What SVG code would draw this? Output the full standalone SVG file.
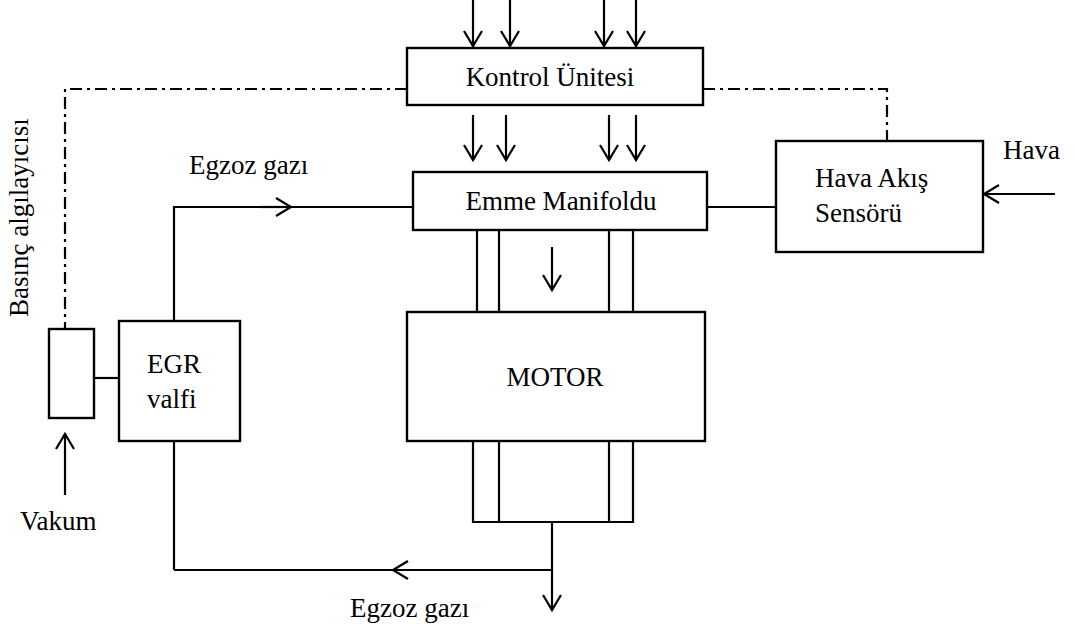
<svg xmlns="http://www.w3.org/2000/svg" width="1075" height="634" viewBox="0 0 1075 634">
<style>
.box{fill:#fff;stroke:#000;stroke-width:2.4}
.ln{fill:none;stroke:#000;stroke-width:2.2}
.dd{fill:none;stroke:#000;stroke-width:2.2;stroke-dasharray:12,5,3,5}
.ar{marker-end:url(#ah)}
text{font-family:"Liberation Serif","Times New Roman",serif;font-size:27px;fill:#000}
</style>
<defs>
<marker id="ah" markerUnits="userSpaceOnUse" markerWidth="24" markerHeight="24" viewBox="0 0 24 24" refX="17" refY="12" orient="auto">
<path d="M2,3 L17,12 L2,21" fill="none" stroke="#000" stroke-width="2.2"/>
</marker>
</defs>
<rect width="1075" height="634" fill="#fff"/>
<g id="connectors">
<line class="ln ar" x1="473" y1="0" x2="473" y2="46"/>
<line class="ln ar" x1="510" y1="0" x2="510" y2="46"/>
<line class="ln ar" x1="604" y1="0" x2="604" y2="46"/>
<line class="ln ar" x1="636" y1="0" x2="636" y2="46"/>
<line class="ln ar" x1="473" y1="115" x2="473" y2="160"/>
<line class="ln ar" x1="506" y1="115" x2="506" y2="160"/>
<line class="ln ar" x1="609" y1="115" x2="609" y2="160"/>
<line class="ln ar" x1="636" y1="115" x2="636" y2="160"/>
<line class="ln" x1="477" y1="230" x2="477" y2="312"/>
<line class="ln" x1="499" y1="230" x2="499" y2="312"/>
<line class="ln" x1="609" y1="230" x2="609" y2="312"/>
<line class="ln" x1="633" y1="230" x2="633" y2="312"/>
<line class="ln ar" x1="552" y1="247" x2="552" y2="290"/>
<polyline class="ln" points="473,441 473,522 633,522 633,441"/>
<line class="ln" x1="499" y1="441" x2="499" y2="522"/>
<line class="ln" x1="609" y1="441" x2="609" y2="522"/>
<line class="ln ar" x1="552" y1="522" x2="552" y2="610"/>
<line class="ln ar" x1="552" y1="570" x2="393" y2="570"/>
<line class="ln" x1="400" y1="570" x2="174" y2="570"/>
<line class="ln" x1="174" y1="570" x2="174" y2="441"/>
<polyline class="ln" points="174,321 174,207 413,207"/>
<line class="ln ar" x1="260" y1="207" x2="291" y2="207"/>
<line class="ln" x1="94" y1="378" x2="119" y2="378"/>
<line class="ln ar" x1="65" y1="495" x2="65" y2="434"/>
<line class="ln" x1="707" y1="207" x2="776" y2="207"/>
<line class="ln ar" x1="1055" y1="194" x2="984" y2="194"/>
<polyline class="dd" points="407,89 65,89 65,329"/>
<polyline class="dd" points="703,89 887,89 887,141"/>
</g>
<g id="kontrol">
<rect class="box" x="407" y="48" width="296" height="57"/>
<text x="550" y="86" text-anchor="middle">Kontrol Ünitesi</text>
</g>
<g id="manifold">
<rect class="box" x="413" y="172" width="294" height="58"/>
<text x="561" y="210" text-anchor="middle">Emme Manifoldu</text>
</g>
<g id="motor">
<rect class="box" x="407" y="312" width="298" height="129"/>
<text x="555" y="386" text-anchor="middle">MOTOR</text>
</g>
<g id="egr">
<rect class="box" x="119" y="321" width="121" height="120"/>
<text x="147" y="373">EGR</text>
<text x="147" y="408">valfi</text>
</g>
<g id="basinc">
<rect class="box" x="49" y="329" width="45" height="89"/>
<text transform="translate(28,317) rotate(-90)">Basınç algılayıcısı</text>
</g>
<g id="havaakis">
<rect class="box" x="776" y="141" width="207" height="111"/>
<text x="815" y="187">Hava Akış</text>
<text x="815" y="222">Sensörü</text>
</g>
<g id="labels">
<text x="189" y="174">Egzoz gazı</text>
<text x="350" y="617">Egzoz gazı</text>
<text x="20" y="530">Vakum</text>
<text x="1003" y="159">Hava</text>
</g>
</svg>
